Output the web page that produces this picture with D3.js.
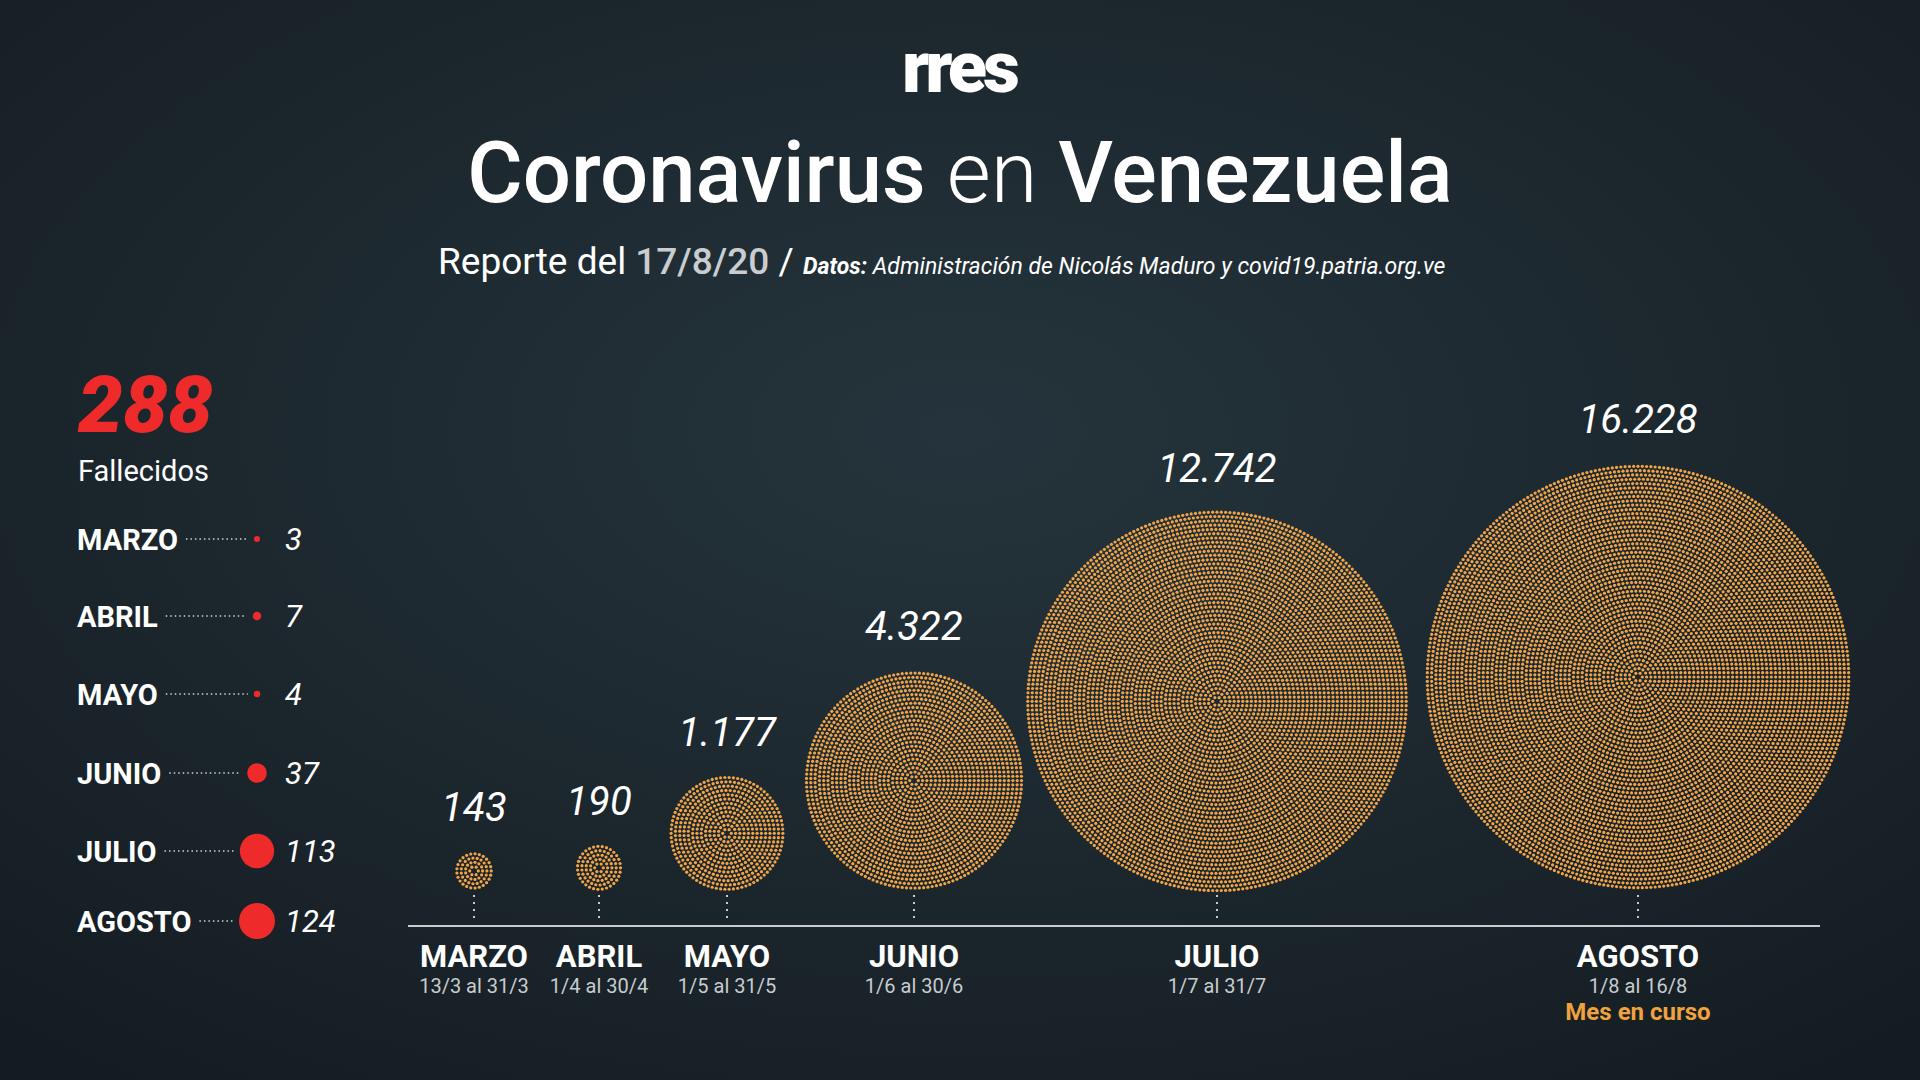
<!DOCTYPE html>
<html><head><meta charset="utf-8">
<script src="https://cdn.jsdelivr.net/npm/d3@7"></script>
<style>body{margin:0;background:#1a2329;overflow:hidden}</style>
</head><body>
<script>
// Datos
const months = ["MARZO", "ABRIL", "MAYO", "JUNIO", "JULIO", "AGOSTO"];
const ranges = ["13/3 al 31/3", "1/4 al 30/4", "1/5 al 31/5", "1/6 al 30/6", "1/7 al 31/7", "1/8 al 16/8"];
const cases = [143, 190, 1177, 4322, 12742, 16228];
const deaths = [3, 7, 4, 37, 113, 124];
const caseLabels = ["143", "190", "1.177", "4.322", "12.742", "16.228"];
const totalDeaths = "288";

const W = 1920, H = 1080;
const svg = d3.select("body").append("svg").attr("width", W).attr("height", H);

const defs = svg.append("defs");
const rg = defs.append("radialGradient").attr("id", "bg").attr("cx", "50%").attr("cy", "40%").attr("r", "75%");
rg.append("stop").attr("offset", "0%").attr("stop-color", "#25343c");
rg.append("stop").attr("offset", "100%").attr("stop-color", "#141c21");
svg.append("rect").attr("width", W).attr("height", H).attr("fill", "url(#bg)");

const F = "Roboto, 'Open Sans', sans-serif";

// Cabecera
svg.append("text").attr("x", 959).attr("y", 92).attr("text-anchor", "middle")
  .attr("font-family", F).attr("font-weight", 900).attr("font-size", 72).attr("letter-spacing", -4)
  .attr("fill", "#fff").text("rres");
const t = svg.append("text").attr("x", 960).attr("y", 202).attr("text-anchor", "middle")
  .attr("font-family", F).attr("font-size", 85).attr("fill", "#fff");
t.append("tspan").attr("font-weight", 500).text("Coronavirus ");
t.append("tspan").attr("font-weight", 300).text("en ");
t.append("tspan").attr("font-weight", 500).text("Venezuela");
const s = svg.append("text").attr("x", 438).attr("y", 274).attr("font-family", F).attr("fill", "#fff");
s.append("tspan").attr("font-size", 37).attr("font-weight", 400).text("Reporte del ");
s.append("tspan").attr("font-size", 37).attr("font-weight", 500).attr("fill", "#c9cdd0").text("17/8/20 ");
s.append("tspan").attr("font-size", 37).text("/ ");
s.append("tspan").attr("font-size", 23).attr("font-weight", 700).attr("font-style", "italic").text("Datos: ");
s.append("tspan").attr("font-size", 23).attr("font-style", "italic").text("Administración de Nicolás Maduro y covid19.patria.org.ve");

// Panel izquierdo
svg.append("text").attr("x", 78).attr("y", 432).attr("font-family", F).attr("font-size", 80)
  .attr("font-weight", 900).attr("font-style", "italic").attr("fill", "#ee2a2a").text(totalDeaths);
svg.append("text").attr("x", 78).attr("y", 481).attr("font-family", F).attr("font-size", 29)
  .attr("fill", "#fff").text("Fallecidos");

const rowYs = [539, 616, 694, 773, 851, 921];
const rDeath = d3.scaleSqrt().domain([0, 124]).range([0, 18]);
months.forEach((m, i) => {
  const y = rowYs[i];
  const lab = svg.append("text").attr("x", 77).attr("y", y + 11).attr("font-family", F)
    .attr("font-size", 29).attr("font-weight", 700).attr("fill", "#fff").text(m);
  const w = lab.node().getComputedTextLength();
  const r = Math.max(rDeath(deaths[i]), 3);
  svg.append("line").attr("x1", 77 + w + 8).attr("x2", 257 - r - 6).attr("y1", y).attr("y2", y)
    .attr("stroke", "#cfd3d6").attr("stroke-width", 1.5).attr("stroke-dasharray", "1.5,3");
  svg.append("circle").attr("cx", 257).attr("cy", y).attr("r", r).attr("fill", "#ee2a2a");
  svg.append("text").attr("x", 285).attr("y", y + 11).attr("font-family", F).attr("font-size", 31)
    .attr("font-style", "italic").attr("fill", "#fff").text(deaths[i]);
});

// Burbujas
const xPos = [474, 599, 727, 914, 1217, 1638];
const x = d3.scaleOrdinal().domain(months).range(xPos);
const r = d3.scaleSqrt().domain([0, 16228]).range([0, 214]);
const baseY = 891, axisY = 926;

svg.append("line").attr("x1", 408).attr("x2", 1820).attr("y1", axisY).attr("y2", axisY)
  .attr("stroke", "#c8cccf").attr("stroke-width", 2);

months.forEach((m, i) => {
  const R = r(cases[i]), cx = x(m), cy = baseY - R;
  const g = svg.append("g").attr("transform", `translate(${cx},${cy})`);
  const dots = [];
  const step = 4.3;
  for (let rr = step; rr <= R; rr += step) {
    const n = Math.round(2 * Math.PI * rr / step);
    for (let k = 0; k < n; k++) {
      const a = 2 * Math.PI * k / n;
      dots.push([rr * Math.cos(a), rr * Math.sin(a)]);
    }
  }
  g.selectAll("circle").data(dots).join("circle")
    .attr("cx", d => d[0]).attr("cy", d => d[1]).attr("r", 1.6).attr("fill", "#f4a445");
  svg.append("line").attr("x1", cx).attr("x2", cx).attr("y1", baseY + 4).attr("y2", axisY - 4)
    .attr("stroke", "#c8cccf").attr("stroke-width", 2).attr("stroke-dasharray", "2,5");
  svg.append("text").attr("x", cx).attr("y", cy - R - 30).attr("text-anchor", "middle")
    .attr("font-family", F).attr("font-size", 40).attr("font-style", "italic").attr("fill", "#fff")
    .text(caseLabels[i]);
  svg.append("text").attr("x", cx).attr("y", 967).attr("text-anchor", "middle").attr("font-family", F)
    .attr("font-size", 31).attr("font-weight", 700).attr("fill", "#fff").text(m);
  svg.append("text").attr("x", cx).attr("y", 993).attr("text-anchor", "middle").attr("font-family", F)
    .attr("font-size", 20).attr("fill", "#c8cccf").text(ranges[i]);
});
svg.append("text").attr("x", x("AGOSTO")).attr("y", 1020).attr("text-anchor", "middle").attr("font-family", F)
  .attr("font-size", 24).attr("font-weight", 700).attr("fill", "#f0a23e").text("Mes en curso");
</script>
</body></html>
